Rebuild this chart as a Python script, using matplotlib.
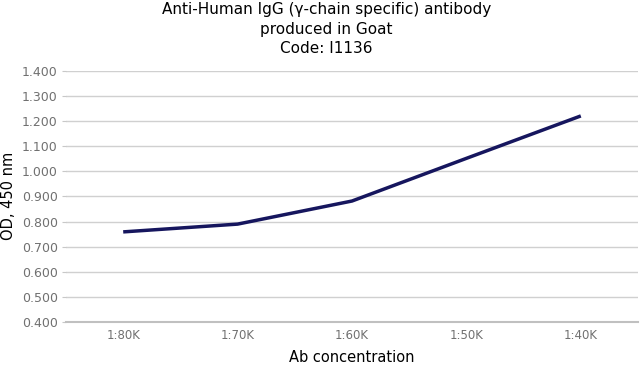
import matplotlib
matplotlib.use("Agg")
import matplotlib.pyplot as plt

categories = ["1:80K", "1:70K", "1:60K", "1:50K", "1:40K"]
od_values = [0.759, 0.790, 0.882, 1.052, 1.221]
y_ticks = [0.4, 0.5, 0.6, 0.7, 0.8, 0.9, 1.0, 1.1, 1.2, 1.3, 1.4]

fig = plt.figure(figsize=(6.4, 3.69), dpi=100)
ax = fig.add_axes([66/640, 47/369, (638-66)/640, (322-71)/369])

x = list(range(len(categories)))
ax.plot(x, od_values, color="#16165e", linewidth=2.5, solid_capstyle="butt")

ax.set_xlim(-0.5, len(categories) - 0.5)
ax.set_ylim(0.4, 1.4)
ax.set_yticks(y_ticks)
ax.set_yticklabels([f"{v:.3f}" for v in y_ticks], color="#707070", fontsize=9)
ax.set_xticks(x)
ax.set_xticklabels(categories, color="#707070", fontsize=8.5)
ax.tick_params(axis="y", length=3, color="#c8c8c8", pad=3)
ax.tick_params(axis="x", length=0, pad=5)
ax.grid(axis="y", color="#d0d0d0", linewidth=1)
ax.set_axisbelow(True)
for s in ["left", "right", "top"]:
    ax.spines[s].set_visible(False)
ax.spines["bottom"].set_color("#c0c0c0")
ax.spines["bottom"].set_linewidth(1.5)

fig.text(9/640, 1 - 196/369, "OD, 450 nm", fontsize=10.5, rotation=90,
         ha="center", va="center")
ax.set_xlabel("Ab concentration", fontsize=10.5, labelpad=6)
fig.suptitle("Anti-Human IgG (\u03b3-chain specific) antibody\nproduced in Goat\nCode: I1136",
             fontsize=11, y=0.995, linespacing=1.4, x=0.51)

fig.savefig("out.png", dpi=100)
